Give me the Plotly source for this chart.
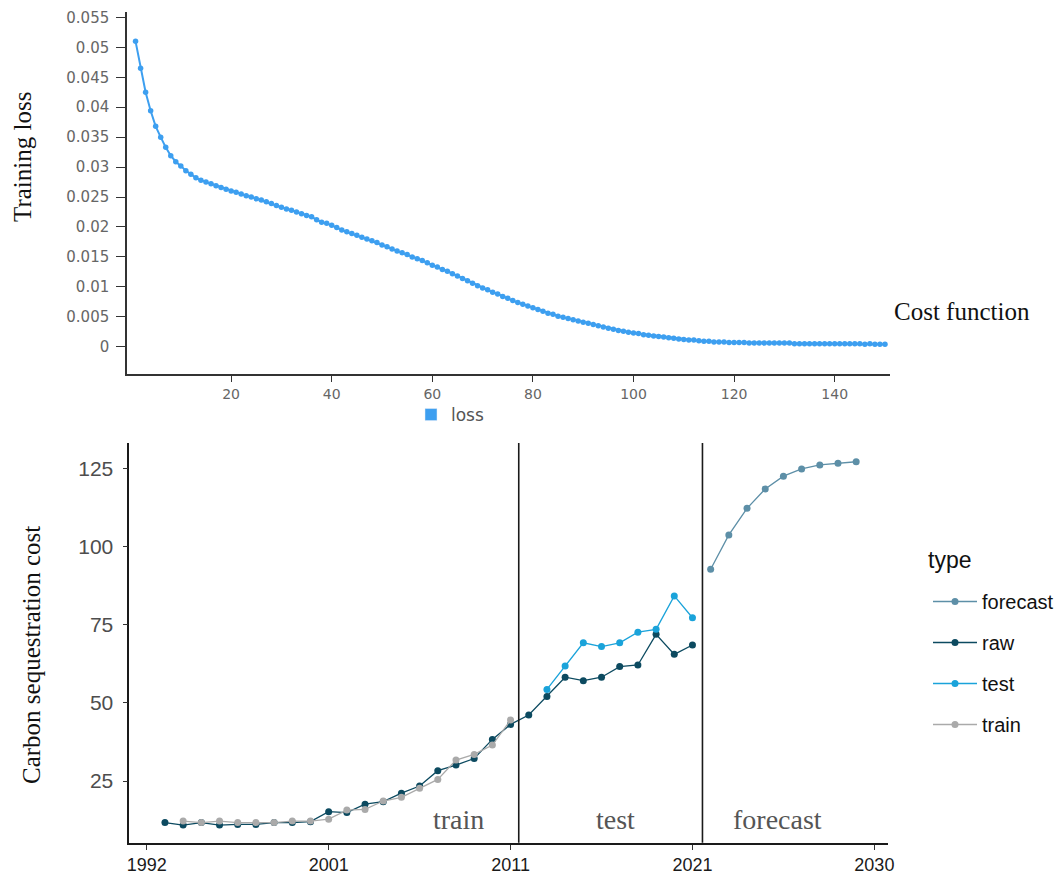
import plotly.graph_objects as go

# figure fills the 1062x874 page (body margin removed in write_html below)
W, H = 1062, 874

# ---------------- data: training loss (top panel) ----------------
epochs = list(range(1, 151))
loss = [
    0.0510, 0.0465, 0.0425, 0.0394, 0.0368, 0.0350, 0.0333, 0.0319, 0.0309, 0.0302,
    0.0294, 0.0288, 0.0282, 0.0278, 0.0275, 0.0272, 0.0269, 0.0266, 0.0263, 0.0260,
    0.0258, 0.0255, 0.0252, 0.0250, 0.0247, 0.0245, 0.0242, 0.0239, 0.0236, 0.0233,
    0.0230, 0.0228, 0.0225, 0.0222, 0.0219, 0.0217, 0.0212, 0.0208, 0.0206, 0.0203,
    0.0199, 0.0195, 0.0192, 0.0189, 0.0186, 0.0183, 0.0180, 0.0177, 0.0174, 0.0170,
    0.0167, 0.0163, 0.0160, 0.0157, 0.0154, 0.0150, 0.0147, 0.0144, 0.0140, 0.0136,
    0.0133, 0.0129, 0.0126, 0.0122, 0.0118, 0.0114, 0.0110, 0.0106, 0.0102, 0.0098,
    0.0095, 0.0091, 0.0088, 0.0084, 0.0081, 0.0077, 0.0074, 0.0071, 0.0068, 0.0065,
    0.0062, 0.0059, 0.0056, 0.0054, 0.0051, 0.0049, 0.0047, 0.0045, 0.0043, 0.0041,
    0.0039, 0.0037, 0.0035, 0.0033, 0.0031, 0.0029, 0.0027, 0.0026, 0.0024, 0.0023,
    0.0022, 0.0020, 0.0019, 0.0018, 0.0017, 0.0016, 0.0015, 0.0014, 0.0013, 0.0012,
    0.0011, 0.0011, 0.0010, 0.0009, 0.0009, 0.0008, 0.0008, 0.0008, 0.0007, 0.0007,
    0.0007, 0.0007, 0.0006, 0.0006, 0.0006, 0.0006, 0.0006, 0.0006, 0.0006, 0.0006,
    0.0006, 0.0005, 0.0005, 0.0005, 0.0005, 0.0005, 0.0005, 0.0005, 0.0005, 0.0005,
    0.0005, 0.0005, 0.0005, 0.0005, 0.0005, 0.0004, 0.0005, 0.0004, 0.0004, 0.0004,
]
loss_yticks = [0, 0.005, 0.01, 0.015, 0.02, 0.025, 0.03, 0.035, 0.04, 0.045, 0.05, 0.055]
loss_yticklabels = ["0", "0.005", "0.01", "0.015", "0.02", "0.025", "0.03",
                    "0.035", "0.04", "0.045", "0.05", "0.055"]
loss_xticks = [20, 40, 60, 80, 100, 120, 140]

# ---------------- data: carbon sequestration cost (bottom panel) ----------------
raw_years = list(range(1992, 2022))
raw_vals = [11.7, 10.9, 11.7, 10.9, 11.1, 11.1, 11.7, 11.7, 12.0, 15.2,
            14.9, 17.6, 18.4, 21.1, 23.4, 28.3, 30.1, 32.2, 38.3, 43.1,
            46.1, 52.0, 58.2, 57.1, 58.2, 61.6, 62.1, 71.9, 65.5, 68.5]
train_years = list(range(1993, 2012))
train_vals = [12.2, 11.7, 12.2, 11.7, 11.7, 11.7, 12.2, 12.2, 12.8, 15.7,
              15.9, 18.6, 19.8, 22.7, 25.5, 31.7, 33.5, 36.5, 44.5]
test_years = list(range(2013, 2022))
test_vals = [54.3, 61.8, 69.2, 68.0, 69.2, 72.6, 73.5, 84.2, 77.2]
forecast_years = list(range(2022, 2031))
forecast_vals = [92.7, 103.7, 112.2, 118.4, 122.5, 124.8, 126.1, 126.6, 127.1]

cost_xtick_pos = [1991, 2001, 2011, 2021, 2031]
cost_xtick_labels = ["1992", "2001", "2011", "2021", "2030"]
cost_yticks = [25, 50, 75, 100, 125]
split_years = [2011.45, 2021.55]
phase_labels = ["train", "test", "forecast"]
phase_label_x = [2008.15, 2016.75, 2025.68]
phase_label_y = 12.8

series = [
    ("forecast", forecast_years, forecast_vals, "#5d8fa7"),
    ("raw", raw_years, raw_vals, "#0c4a60"),
    ("test", test_years, test_vals, "#1aa3da"),
    ("train", train_years, train_vals, "#aaaaaa"),
]


def px(v):
    return v / W


def py(v):
    return 1 - v / H


fig = go.Figure()

# top panel
fig.add_trace(go.Scatter(
    x=epochs, y=loss, mode="lines+markers", name="loss",
    line=dict(color="#3d9ff0", width=2),
    marker=dict(color="#3d9ff0", size=5.5),
    xaxis="x", yaxis="y", showlegend=False,
))
fig.add_trace(go.Bar(
    x=[None], y=[None], name="loss", marker_color="#3d9ff0",
    xaxis="x", yaxis="y", legend="legend2", showlegend=True,
))

# bottom panel
for name, xs, ys, col in series:
    fig.add_trace(go.Scatter(
        x=xs, y=ys, mode="lines+markers", name=name,
        line=dict(color=col, width=1.3),
        marker=dict(color=col, size=7),
        xaxis="x2", yaxis="y2", legendgroup=name, legend="legend",
    ))

shapes = []
for sx in split_years:
    shapes.append(dict(type="line", xref="x2", yref="y2 domain",
                       x0=sx, x1=sx, y0=0, y1=1,
                       line=dict(color="#1a1a1a", width=1.6)))

annotations = [
    dict(text="Training loss", x=px(22), y=py(157), xref="paper", yref="paper",
         textangle=-90, showarrow=False, xanchor="center", yanchor="middle",
         font=dict(family="Liberation Serif", size=25, color="#111")),
    dict(text="Cost function", x=px(962), y=py(312), xref="paper", yref="paper",
         showarrow=False, xanchor="center", yanchor="middle",
         font=dict(family="Liberation Serif", size=25, color="#111")),
    dict(text="Carbon sequestration cost", x=px(31), y=py(655), xref="paper", yref="paper",
         textangle=-90, showarrow=False, xanchor="center", yanchor="middle",
         font=dict(family="Liberation Serif", size=25, color="#111")),
    dict(text="type", x=px(926), y=py(560), xref="paper", yref="paper",
         showarrow=False, xanchor="left", yanchor="middle",
         font=dict(family="Liberation Sans", size=23, color="#111")),
]
for lab, lx in zip(phase_labels, phase_label_x):
    annotations.append(dict(text=lab, x=lx, y=phase_label_y, xref="x2", yref="y2",
                            showarrow=False, xanchor="center", yanchor="middle",
                            font=dict(family="Liberation Serif", size=28, color="#555")))

fig.update_layout(
    width=W, height=H, autosize=False,
    margin=dict(l=0, r=0, t=0, b=0, pad=0, autoexpand=False),
    paper_bgcolor="white", plot_bgcolor="white",
    shapes=shapes, annotations=annotations,
    xaxis=dict(
        domain=[px(127), px(890)], range=[-0.7, 151],
        tickvals=loss_xticks, ticks="outside", ticklen=6, tickwidth=1.3,
        tickcolor="#333", showline=True, linecolor="#333", linewidth=1.5,
        showgrid=False, zeroline=False,
        tickfont=dict(family="DejaVu Sans", size=14, color="#666"),
        anchor="y",
    ),
    yaxis=dict(
        domain=[py(374), py(12)], range=[-0.00456, 0.0559],
        tickvals=loss_yticks, ticktext=loss_yticklabels,
        ticks="outside", ticklen=9, tickwidth=1.3, tickcolor="#333",
        showline=True, linecolor="#333", linewidth=1.5,
        showgrid=False, zeroline=False, ticklabelstandoff=4,
        tickfont=dict(family="DejaVu Sans", size=15, color="#666"),
        anchor="x",
    ),
    xaxis2=dict(
        domain=[px(129.3), px(888)], range=[1990.04, 2031.75],
        tickvals=cost_xtick_pos, ticktext=cost_xtick_labels,
        ticks="outside", ticklen=5, tickwidth=1.2, tickcolor="#333",
        showline=True, linecolor="#1a1a1a", linewidth=1.6,
        showgrid=False, zeroline=False,
        tickfont=dict(family="Liberation Sans", size=18, color="#1a1a1a"),
        anchor="y2",
    ),
    yaxis2=dict(
        domain=[py(842.7), py(443)], range=[5.27, 133.1],
        tickvals=cost_yticks, ticks="outside", ticklen=5, tickwidth=1.2,
        tickcolor="#333", showline=True, linecolor="#1a1a1a", linewidth=1.6,
        showgrid=False, zeroline=False, ticklabelstandoff=5,
        tickfont=dict(family="Liberation Sans", size=21, color="#4d4d4d"),
        anchor="x2",
    ),
    legend=dict(
        x=px(928), y=py(582), xanchor="left", yanchor="top",
        font=dict(family="Liberation Sans", size=20, color="#111"),
        bgcolor="rgba(0,0,0,0)", traceorder="grouped", tracegroupgap=12,
        itemwidth=44,
    ),
    legend2=dict(
        x=px(411), y=py(397), xanchor="left", yanchor="top",
        font=dict(family="DejaVu Sans", size=17, color="#555"),
        bgcolor="rgba(0,0,0,0)",
    ),
    showlegend=True,
)

fig.write_html("out.html", config={"displayModeBar": False},
               post_script="document.body.style.margin='0';")
